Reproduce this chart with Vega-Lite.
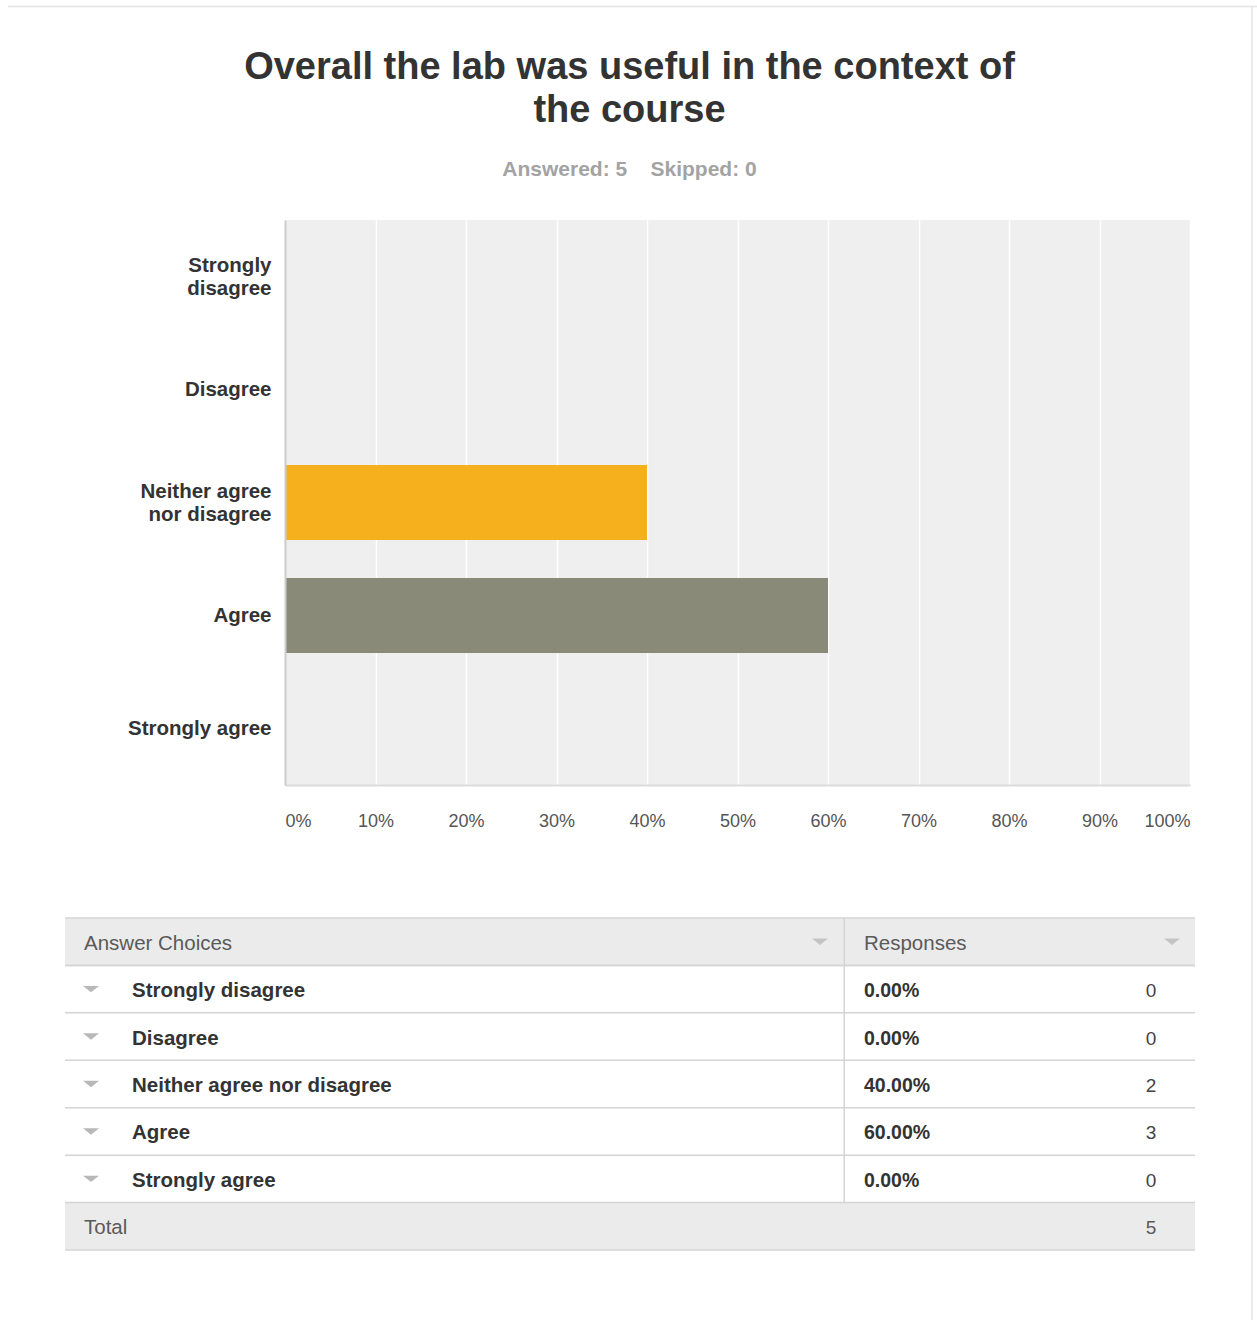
{
  "$schema": "https://vega.github.io/schema/vega-lite/v6.json",
  "width": 905,
  "height": 565,
  "autosize": {"type": "none"},
  "padding": {"left": 285, "top": 220, "right": 67, "bottom": 535},
  "background": "white",
  "config": {"font": "Liberation Sans", "view": {"fill": "#EFEFEF", "stroke": null}},
  "title": {
    "text": ["Overall the lab was useful in the context of", "the course"],
    "subtitle": "Answered: 5\u00a0\u00a0\u00a0\u00a0Skipped: 0",
    "anchor": "middle",
    "dx": -108,
    "fontSize": 38,
    "fontWeight": "bold",
    "color": "#333333",
    "lineHeight": 43,
    "font": "Liberation Sans",
    "subtitleFont": "Liberation Sans",
    "subtitleFontSize": 21,
    "subtitleFontWeight": "bold",
    "subtitleColor": "#a3a3a3",
    "subtitlePadding": 29,
    "offset": -175
  },
  "datasets": {
    "responses": [
      {"choice": "Strongly disagree", "pct": 0.0, "count": 0},
      {"choice": "Disagree", "pct": 0.0, "count": 0},
      {"choice": "Neither agree nor disagree", "pct": 0.4, "count": 2},
      {"choice": "Agree", "pct": 0.6, "count": 3},
      {"choice": "Strongly agree", "pct": 0.0, "count": 0}
    ],
    "frame": [
      {"row": "Answer Choices", "kind": "header", "resp": "Responses"},
      {"row": "Total", "kind": "total", "total": 5}
    ]
  },
  "layer": [
    {
      "data": {"name": "responses"},
      "mark": {"type": "bar"},
      "encoding": {
        "y": {
          "field": "choice", "type": "nominal",
          "scale": {"domain": ["Strongly disagree", "Disagree", "Neither agree nor disagree", "Agree", "Strongly agree"], "paddingInner": 0.336, "paddingOuter": 0.168},
          "axis": {
            "title": null, "domainColor": "#cccccc", "domainWidth": 2, "ticks": false,
            "labelPadding": 14, "labelFontSize": 20.5, "labelFontWeight": "bold", "labelColor": "#333333",
            "labelLineHeight": 23, "labelLimit": 300, "zindex": 1,
            "labelOffset": {"condition": {"test": "datum.value == 'Strongly disagree' || datum.value == 'Neither agree nor disagree'", "value": -11}, "value": 0},
            "labelExpr": "datum.value == 'Strongly disagree' ? ['Strongly', 'disagree'] : datum.value == 'Neither agree nor disagree' ? ['Neither agree', 'nor disagree'] : datum.value"
          }
        },
        "x": {
          "field": "pct", "type": "quantitative",
          "scale": {"domain": [0, 1], "nice": false},
          "axis": {
            "title": null, "values": [0, 0.1, 0.2, 0.3, 0.4, 0.5, 0.6, 0.7, 0.8, 0.9, 1.0], "format": ".0%",
            "labelFlush": true, "labelFontSize": 18, "labelColor": "#555555", "labelPadding": 27,
            "ticks": false, "domainColor": "#dcdcdc", "domainWidth": 2,
            "grid": true, "gridColor": "#ffffff", "gridWidth": 1.5
          }
        },
        "color": {
          "field": "choice", "type": "nominal",
          "scale": {"domain": ["Strongly disagree", "Disagree", "Neither agree nor disagree", "Agree", "Strongly agree"], "range": ["#D25F90", "#A1CF64", "#F6B01E", "#8A8A79", "#67B7DC"]},
          "legend": null
        }
      }
    },
    {
      "layer": [
        {
          "data": {"name": "frame"},
          "mark": {"type": "rect", "fill": "#EBEBEB"},
          "encoding": {
            "y": {"field": "row", "type": "nominal", "scale": {"type": "band", "domain": ["Answer Choices", "Strongly disagree", "Disagree", "Neither agree nor disagree", "Agree", "Strongly agree", "Total"], "range": [698, 1030], "paddingInner": 0, "paddingOuter": 0}, "axis": null},
            "x": {"value": -220},
            "x2": {"value": 910}
          }
        },
        {
          "data": {"name": "frame"},
          "transform": [{"filter": "datum.kind == 'header'"}],
          "mark": {"type": "rect", "fill": "#d4d4d4"},
          "encoding": {
            "y": {"field": "row", "type": "nominal", "axis": null},
            "x": {"value": 558.5},
            "x2": {"value": 560}
          }
        },
        {
          "data": {"name": "responses"},
          "mark": {"type": "rect", "fill": "#d4d4d4"},
          "encoding": {
            "y": {"field": "choice", "type": "nominal", "axis": null},
            "x": {"value": 558.5},
            "x2": {"value": 560}
          }
        },
        {
          "data": {"name": "responses"},
          "mark": {"type": "rule", "color": "#d4d4d4", "strokeWidth": 1.5},
          "encoding": {
            "y": {"field": "choice", "type": "nominal", "bandPosition": 0, "axis": null},
            "x": {"value": -220},
            "x2": {"value": 910}
          }
        },
        {
          "data": {"name": "frame"},
          "mark": {"type": "rule", "color": "#d4d4d4", "strokeWidth": 1.5},
          "encoding": {
            "y": {"field": "row", "type": "nominal", "bandPosition": 0, "axis": null},
            "x": {"value": -220},
            "x2": {"value": 910}
          }
        },
        {
          "data": {"name": "frame"},
          "mark": {"type": "rule", "color": "#d4d4d4", "strokeWidth": 1.5},
          "encoding": {
            "y": {"field": "row", "type": "nominal", "bandPosition": 1, "axis": null},
            "x": {"value": -220},
            "x2": {"value": 910}
          }
        },
        {
          "data": {"name": "responses"},
          "mark": {"type": "point", "shape": "M-1,-0.4L1,-0.4L0,0.4Z", "filled": true, "fill": "#b8b8b8", "strokeWidth": 0, "size": 256, "opacity": 1},
          "encoding": {
            "y": {"field": "choice", "type": "nominal", "axis": null},
            "x": {"value": -194}
          }
        },
        {
          "data": {"name": "frame"},
          "transform": [{"filter": "datum.kind == 'header'"}],
          "mark": {"type": "point", "shape": "M-1,-0.4L1,-0.4L0,0.4Z", "filled": true, "fill": "#c4c4c4", "strokeWidth": 0, "size": 256, "opacity": 1},
          "encoding": {
            "y": {"field": "row", "type": "nominal", "axis": null},
            "x": {"value": 535}
          }
        },
        {
          "data": {"name": "frame"},
          "transform": [{"filter": "datum.kind == 'header'"}],
          "mark": {"type": "point", "shape": "M-1,-0.4L1,-0.4L0,0.4Z", "filled": true, "fill": "#c4c4c4", "strokeWidth": 0, "size": 256, "opacity": 1},
          "encoding": {
            "y": {"field": "row", "type": "nominal", "axis": null},
            "x": {"value": 887}
          }
        },
        {
          "data": {"name": "frame"},
          "mark": {"type": "text", "align": "left", "baseline": "middle", "fontSize": 20.5, "color": "#5a5a5a", "dy": 2},
          "encoding": {
            "y": {"field": "row", "type": "nominal", "axis": null},
            "x": {"value": -201},
            "text": {"field": "row"}
          }
        },
        {
          "data": {"name": "frame"},
          "transform": [{"filter": "datum.kind == 'header'"}],
          "mark": {"type": "text", "align": "left", "baseline": "middle", "fontSize": 20.5, "color": "#5a5a5a", "dy": 2},
          "encoding": {
            "y": {"field": "row", "type": "nominal", "axis": null},
            "x": {"value": 579},
            "text": {"field": "resp"}
          }
        },
        {
          "data": {"name": "frame"},
          "transform": [{"filter": "datum.kind == 'total'"}],
          "mark": {"type": "text", "align": "center", "baseline": "middle", "fontSize": 19, "color": "#5a5a5a", "dy": 2},
          "encoding": {
            "y": {"field": "row", "type": "nominal", "axis": null},
            "x": {"value": 866},
            "text": {"field": "total", "type": "quantitative"}
          }
        },
        {
          "data": {"name": "responses"},
          "mark": {"type": "text", "align": "left", "baseline": "middle", "fontSize": 20.5, "fontWeight": "bold", "color": "#333333", "dy": 2},
          "encoding": {
            "y": {"field": "choice", "type": "nominal", "axis": null},
            "x": {"value": -153},
            "text": {"field": "choice"}
          }
        },
        {
          "data": {"name": "responses"},
          "mark": {"type": "text", "align": "left", "baseline": "middle", "fontSize": 19.5, "fontWeight": "bold", "color": "#333333", "dy": 2},
          "encoding": {
            "y": {"field": "choice", "type": "nominal", "axis": null},
            "x": {"value": 579},
            "text": {"field": "pct", "type": "quantitative", "format": ".2%"}
          }
        },
        {
          "data": {"name": "responses"},
          "mark": {"type": "text", "align": "center", "baseline": "middle", "fontSize": 19, "color": "#444444", "dy": 2},
          "encoding": {
            "y": {"field": "choice", "type": "nominal", "axis": null},
            "x": {"value": 866},
            "text": {"field": "count", "type": "quantitative"}
          }
        },
        {
          "data": {"values": [{}]},
          "mark": {"type": "rule", "color": "#e4e4e4", "strokeWidth": 1.5},
          "encoding": {"x": {"value": -277}, "x2": {"value": 972}, "y": {"value": -213.5}}
        },
        {
          "data": {"values": [{}]},
          "mark": {"type": "rule", "color": "#e4e4e4", "strokeWidth": 1.5},
          "encoding": {"x": {"value": 967}, "y": {"value": -214}, "y2": {"value": 1110}}
        }
      ]
    }
  ],
  "resolve": {"scale": {"x": "independent", "y": "independent", "color": "independent"}}
}
